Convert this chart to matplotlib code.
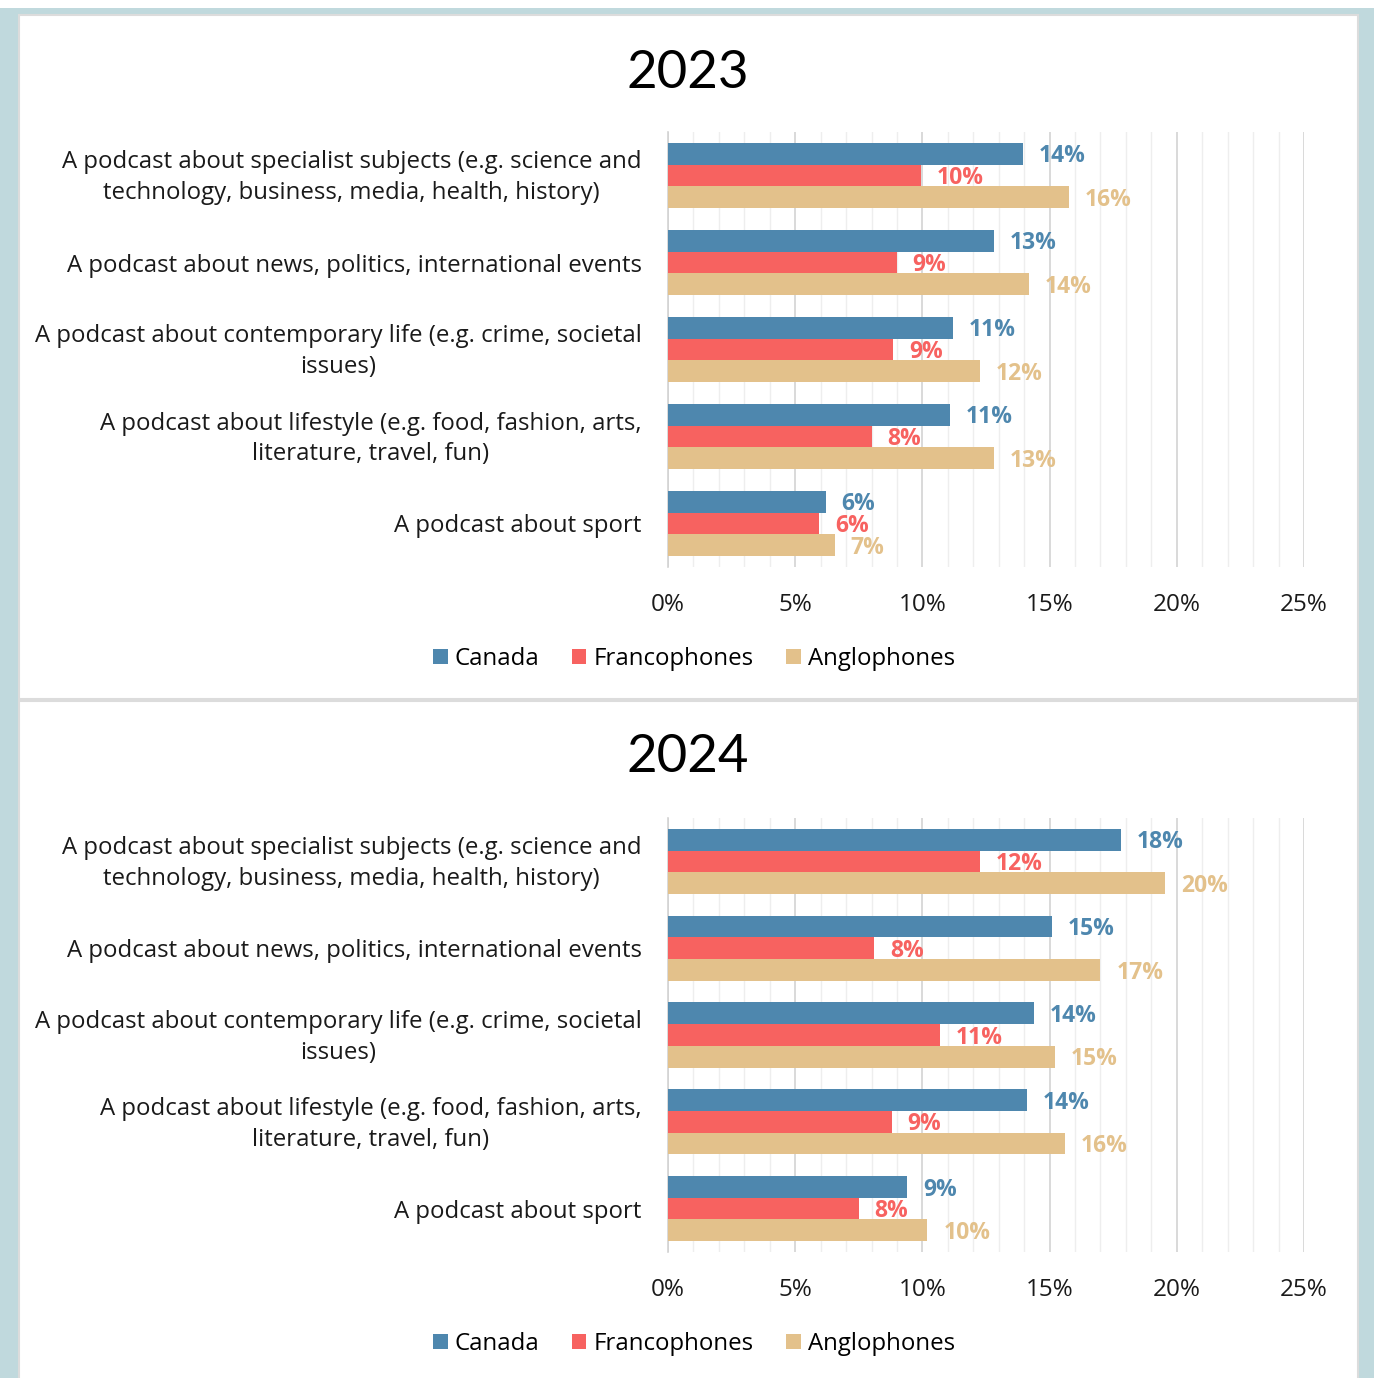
import numpy as np
import matplotlib.pyplot as plt
from matplotlib.patches import Rectangle
from matplotlib.ticker import MultipleLocator, FuncFormatter
from matplotlib.transforms import ScaledTranslation

plt.rcParams['font.family'] = ['Open Sans', 'DejaVu Sans']

# -----------------------------
# Data
# -----------------------------
categories = [
    "A podcast about specialist subjects (e.g. science and\ntechnology, business, media, health, history)",
    "A podcast about news, politics, international events",
    "A podcast about contemporary life (e.g. crime, societal\nissues)",
    "A podcast about lifestyle (e.g. food, fashion, arts,\nliterature, travel, fun)",
    "A podcast about sport",
]
series = ["Canada", "Francophones", "Anglophones"]
colors = ["#4E87AE", "#F76260", "#E3C18B"]

canada_2023 = [13.95, 12.8, 11.2, 11.1, 6.2]
franco_2023 = [9.95, 9.0, 8.85, 8.0, 5.95]
anglo_2023 = [15.75, 14.2, 12.25, 12.8, 6.55]

canada_2024 = [17.8, 15.1, 14.4, 14.1, 9.4]
franco_2024 = [12.25, 8.1, 10.7, 8.8, 7.5]
anglo_2024 = [19.55, 17.0, 15.2, 15.6, 10.2]

panels = [
    ("2023", [canada_2023, franco_2023, anglo_2023]),
    ("2024", [canada_2024, franco_2024, anglo_2024]),
]

# -----------------------------
# Figure and background frame
# -----------------------------
W, H = 1374, 1378
fig = plt.figure(figsize=(W / 100, H / 100), dpi=100)
fig.patch.set_facecolor("#C0D9DD")


def px_rect(x0, y0, x1, y1, **kw):
    fig.patches.append(Rectangle((x0 / W, 1 - y1 / H), (x1 - x0) / W, (y1 - y0) / H,
                                 transform=fig.transFigure, figure=fig, zorder=-10, **kw))


px_rect(0, 0, W, 8, facecolor="white", edgecolor="none")
px_rect(19, 15, 1358, 699, facecolor="white", edgecolor="#DCDCDC", linewidth=1.5)
px_rect(19, 701, 1358, 1390, facecolor="white", edgecolor="#DCDCDC", linewidth=1.5)

# pixel layout of each panel: (title y, axes top, axes bottom, legend y)
layout = [(73, 132, 567, 659), (758, 818, 1252, 1344)]

bar_h = 0.25
for (title, vals), (ty, top, bot, ly) in zip(panels, layout):
    ax = fig.add_axes([668 / W, 1 - bot / H, 636 / W, (bot - top) / H])
    ax.set_facecolor("none")
    y = np.arange(len(categories))
    for i, (v, c, name) in enumerate(zip(vals, colors, series)):
        pos = y + (i - 1) * bar_h
        ax.barh(pos, v, height=bar_h, color=c, label=name, zorder=3)
        for p, val in zip(pos, v):
            ax.text(val + 0.62, p + 0.03, f"{round(val):.0f}%", color=c, fontsize=16.5,
                    fontweight="bold", va="center", ha="left", zorder=4)

    ax.set_xlim(0, 25)
    ax.set_ylim(len(categories) - 0.5, -0.5)
    ax.xaxis.set_major_locator(MultipleLocator(5))
    ax.xaxis.set_minor_locator(MultipleLocator(1))
    ax.xaxis.set_major_formatter(FuncFormatter(lambda x, _: f"{x:.0f}%"))
    ax.grid(axis="x", which="minor", color="#EEEEEE", linewidth=1, zorder=0)
    ax.grid(axis="x", which="major", color="#D3D3D3", linewidth=1.2, zorder=1)
    ax.tick_params(axis="x", which="both", length=0, pad=19, labelsize=17.5, labelcolor="#1a1a1a")
    ax.set_yticks(y)
    ax.set_yticklabels(categories, fontsize=17.3, multialignment="center",
                       linespacing=1.38, color="#1a1a1a")
    ax.tick_params(axis="y", length=0, pad=19)
    # two-line labels sit a little higher in the original
    for lab in ax.get_yticklabels():
        if "\n" in lab.get_text():
            lab.set_transform(lab.get_transform() + ScaledTranslation(0, 4 / 100, fig.dpi_scale_trans))
    for s in ["top", "right", "bottom"]:
        ax.spines[s].set_visible(False)
    ax.spines["left"].set_color("#D3D3D3")
    ax.spines["left"].set_linewidth(1.2)

    fig.text(688 / W, 1 - ty / H, title, fontsize=38, ha="center", va="center",
             family=["Lato", "DejaVu Sans"], color="black")

    handles, labels = ax.get_legend_handles_labels()
    fig.legend(handles, labels, loc="center", bbox_to_anchor=(694 / W, 1 - ly / H),
               ncol=3, frameon=False, fontsize=17.3, handlelength=0.6, handleheight=0.6,
               handletextpad=0.3, columnspacing=1.35)

fig.savefig("out.png", dpi=100, facecolor=fig.get_facecolor())
